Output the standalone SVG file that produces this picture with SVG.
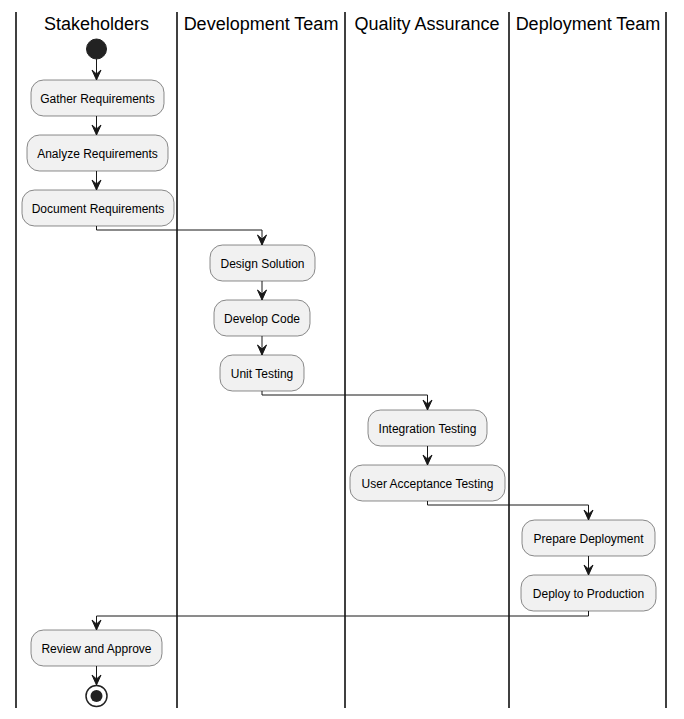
<svg xmlns="http://www.w3.org/2000/svg" width="684" height="719" viewBox="0 0 684 719">
<defs>
<style>
.lane{stroke:#000;stroke-width:1.5;fill:none}
.title{font-family:"Liberation Sans",Arial,sans-serif;font-size:18px;fill:#000;text-anchor:middle}
.act rect{fill:#F1F1F1;stroke:#181818;stroke-width:0.5}
.act text{font-family:"Liberation Sans",Arial,sans-serif;font-size:12px;fill:#000;text-anchor:middle}
.edge{stroke:#181818;stroke-width:1;fill:none}
.head{fill:#181818;stroke:#181818;stroke-width:1}
</style>
</defs>
<rect width="684" height="719" fill="#fff"/>
<g id="lanes">
<line class="lane" x1="16" y1="12" x2="16" y2="708"/>
<line class="lane" x1="177" y1="12" x2="177" y2="708"/>
<line class="lane" x1="345" y1="12" x2="345" y2="708"/>
<line class="lane" x1="509" y1="12" x2="509" y2="708"/>
<line class="lane" x1="666" y1="12" x2="666" y2="708"/>
<text class="title" x="96.5" y="30">Stakeholders</text>
<text class="title" x="261" y="30">Development Team</text>
<text class="title" x="427" y="30">Quality Assurance</text>
<text class="title" x="588" y="30">Deployment Team</text>
</g>
<g id="connectors">
<path class="edge" d="M96.5,59 V80"/><polygon class="head" points="92,70 96.5,80 101,70 96.5,74"/>
<path class="edge" d="M96.5,116 V135"/><polygon class="head" points="92,125 96.5,135 101,125 96.5,129"/>
<path class="edge" d="M96.5,171 V190"/><polygon class="head" points="92,180 96.5,190 101,180 96.5,184"/>
<path class="edge" d="M96.5,226 V230 H262 V245"/><polygon class="head" points="257.5,235 262,245 266.5,235 262,239"/>
<path class="edge" d="M262,281 V300"/><polygon class="head" points="257.5,290 262,300 266.5,290 262,294"/>
<path class="edge" d="M262,336 V355"/><polygon class="head" points="257.5,345 262,355 266.5,345 262,349"/>
<path class="edge" d="M262,391 V395 H427.5 V410"/><polygon class="head" points="423,400 427.5,410 432,400 427.5,404"/>
<path class="edge" d="M427.5,446 V465"/><polygon class="head" points="423,455 427.5,465 432,455 427.5,459"/>
<path class="edge" d="M427.5,501 V505 H588.5 V520"/><polygon class="head" points="584,510 588.5,520 593,510 588.5,514"/>
<path class="edge" d="M588.5,556 V575"/><polygon class="head" points="584,565 588.5,575 593,565 588.5,569"/>
<path class="edge" d="M588.5,611 V616 H96.5 V630"/><polygon class="head" points="92,620 96.5,630 101,620 96.5,624"/>
<path class="edge" d="M96.5,666 V685"/><polygon class="head" points="92,675 96.5,685 101,675 96.5,679"/>
</g>
<g id="start"><circle cx="96.5" cy="49" r="10" fill="#222" stroke="#222"/></g>
<g id="gather" class="act"><rect x="31" y="80" width="133" height="36" rx="12.5"/><text x="97.5" y="103">Gather Requirements</text></g>
<g id="analyze" class="act"><rect x="27" y="135" width="141" height="36" rx="12.5"/><text x="97.5" y="158">Analyze Requirements</text></g>
<g id="document" class="act"><rect x="22" y="190" width="152" height="36" rx="12.5"/><text x="98" y="213">Document Requirements</text></g>
<g id="design" class="act"><rect x="210" y="245" width="105" height="36" rx="12.5"/><text x="262.5" y="268">Design Solution</text></g>
<g id="develop" class="act"><rect x="214" y="300" width="96" height="36" rx="12.5"/><text x="262" y="323">Develop Code</text></g>
<g id="unit" class="act"><rect x="220" y="355" width="84" height="36" rx="12.5"/><text x="262" y="378">Unit Testing</text></g>
<g id="integration" class="act"><rect x="368" y="410" width="119" height="36" rx="12.5"/><text x="427.5" y="433">Integration Testing</text></g>
<g id="uat" class="act"><rect x="350" y="465" width="155" height="36" rx="12.5"/><text x="427.5" y="488">User Acceptance Testing</text></g>
<g id="prepare" class="act"><rect x="522" y="520" width="133" height="36" rx="12.5"/><text x="588.5" y="543">Prepare Deployment</text></g>
<g id="deploy" class="act"><rect x="521" y="575" width="135" height="36" rx="12.5"/><text x="588.5" y="598">Deploy to Production</text></g>
<g id="review" class="act"><rect x="31" y="630" width="131" height="36" rx="12.5"/><text x="96.5" y="653">Review and Approve</text></g>
<g id="end"><circle cx="96.5" cy="696" r="10.5" fill="#fff" stroke="#222" stroke-width="1.5"/><circle cx="96.5" cy="696" r="6" fill="#222"/></g>
</svg>
